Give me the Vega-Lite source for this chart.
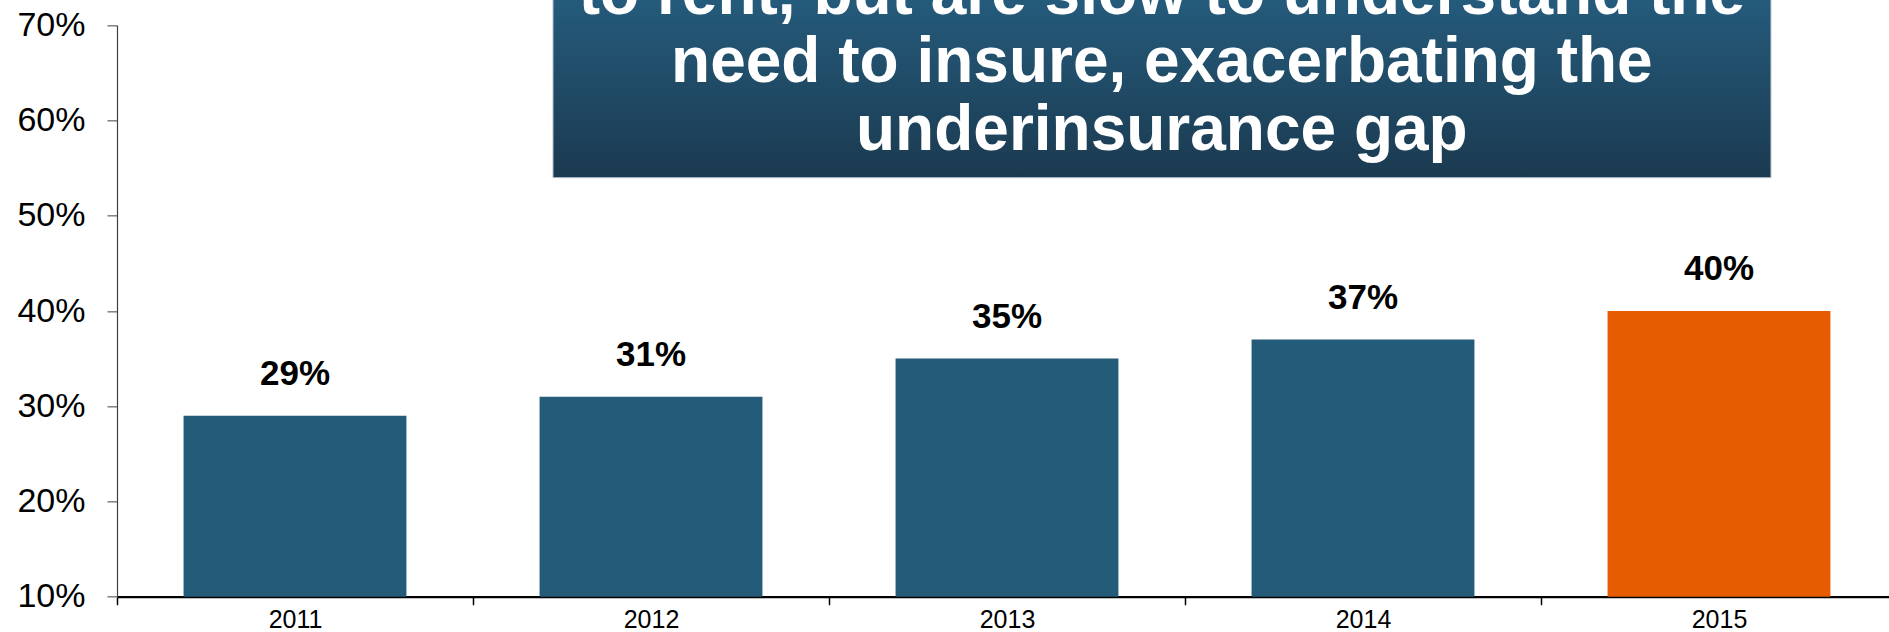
{
  "$schema": "https://vega.github.io/schema/vega-lite/v6.json",
  "width": 1772,
  "height": 571.4,
  "autosize": {"type": "none"},
  "padding": {"left": 117, "top": 25.3, "right": 0, "bottom": 35.3},
  "background": "white",
  "config": {"view": {"stroke": null}, "font": "Liberation Sans"},
  "layer": [
    {
      "data": {"values": [
        {"year": "2011", "value": 0.29},
        {"year": "2012", "value": 0.31},
        {"year": "2013", "value": 0.35},
        {"year": "2014", "value": 0.37},
        {"year": "2015", "value": 0.40}
      ]},
      "encoding": {
        "x": {
          "field": "year", "type": "nominal", "sort": null,
          "scale": {"range": [0, 1780], "paddingInner": 0, "paddingOuter": 0},
          "axis": {
            "title": null, "labelAngle": 0, "labelFontSize": 25, "labelColor": "#000000",
            "labelFont": "Liberation Sans", "labelPadding": 3,
            "tickBand": "extent", "tickSize": 8, "tickColor": "#000000", "tickWidth": 1.5,
            "domainColor": "#000000", "domainWidth": 2.2, "grid": false
          }
        },
        "y": {
          "field": "value", "type": "quantitative",
          "scale": {"domain": [0.1, 0.7], "nice": false, "zero": false},
          "axis": {
            "title": null, "values": [0.1, 0.2, 0.3, 0.4, 0.5, 0.6, 0.7], "format": ".0%",
            "labelFontSize": 34, "labelColor": "#000000", "labelFont": "Liberation Sans",
            "labelPadding": 22, "tickSize": 10, "tickColor": "#808080", "tickWidth": 1.5,
            "domainColor": "#404040", "domainWidth": 1.2, "grid": false
          }
        }
      },
      "layer": [
        {
          "mark": {"type": "bar", "width": {"band": 0.626}},
          "encoding": {
            "y2": {"datum": 0.1},
            "color": {
              "field": "year", "type": "nominal", "legend": null,
              "scale": {"domain": ["2011", "2012", "2013", "2014", "2015"],
                        "range": ["#235b79", "#235b79", "#235b79", "#235b79", "#e65c00"]}
            }
          }
        },
        {
          "mark": {"type": "text", "fontSize": 35, "fontWeight": "bold", "font": "Liberation Sans",
                   "baseline": "alphabetic", "dy": -31, "color": "#000000"},
          "encoding": {
            "text": {"field": "value", "type": "quantitative", "format": ".0%"}
          }
        }
      ]
    },
    {
      "data": {"values": [{"note": "box"}]},
      "layer": [
        {
          "mark": {
            "type": "rect", "clip": false, "stroke": "#b8c2cc", "strokeWidth": 1,
            "fill": {"gradient": "linear", "x1": 0, "y1": 0, "x2": 0, "y2": 1,
                     "stops": [{"offset": 0, "color": "#255c7d"}, {"offset": 1, "color": "#1b3a50"}]}
          },
          "encoding": {
            "x": {"datum": 1.2247, "type": "quantitative", "scale": {"domain": [0, 5], "range": [0, 1780]}, "axis": null},
            "x2": {"datum": 4.646},
            "y": {"datum": 0.540, "type": "quantitative"},
            "y2": {"datum": 0.735}
          }
        },
        {
          "mark": {
            "type": "text", "clip": false, "font": "Liberation Sans", "fontSize": 64, "fontWeight": "bold",
            "color": "#ffffff", "align": "center", "baseline": "alphabetic", "lineBreak": "\n", "lineHeight": 68,
            "text": "to rent, but are slow to understand the\nneed to insure, exacerbating the\nunderinsurance gap"
          },
          "encoding": {
            "x": {"datum": 2.935, "type": "quantitative", "scale": {"domain": [0, 5], "range": [0, 1780]}, "axis": null},
            "y": {"datum": 0.7119, "type": "quantitative"}
          }
        }
      ]
    }
  ],
  "resolve": {"scale": {"x": "independent"}, "axis": {"x": "independent"}}
}
